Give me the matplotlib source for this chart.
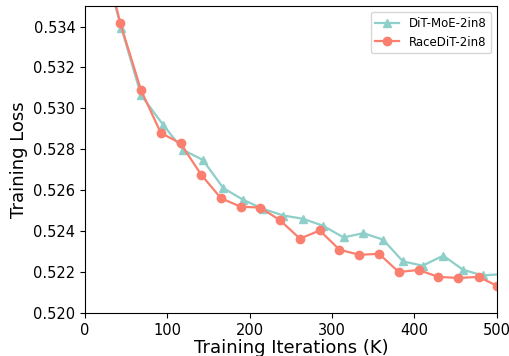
import matplotlib
matplotlib.use("Agg")
import matplotlib.pyplot as plt

# iterations (K) and training loss
moe_iters = [20, 44, 68, 95, 119, 143, 168, 192, 216, 241, 265, 289, 314, 338, 362, 386, 410, 435, 459, 483, 507]
moe_loss = [0.5375, 0.53395, 0.53065, 0.52919, 0.52797, 0.52748, 0.52610, 0.52553, 0.52509, 0.52476,
            0.52460, 0.52426, 0.52369, 0.52390, 0.52358, 0.52252, 0.52231, 0.52280, 0.52211, 0.52183, 0.52190]

race_iters = [19, 43, 68, 92, 116, 141, 165, 189, 213, 237, 261, 285, 309, 333, 357, 381, 405, 429, 453, 478, 500]
race_loss = [0.5380, 0.53415, 0.53089, 0.52880, 0.52829, 0.52676, 0.52561, 0.52519, 0.52515, 0.52452,
             0.52363, 0.52403, 0.52309, 0.52284, 0.52289, 0.52200, 0.52210, 0.52176, 0.52171, 0.52176, 0.52133]

fig, ax = plt.subplots(figsize=(5.09, 3.56), dpi=100)
fig.subplots_adjust(left=0.167, right=0.976, top=0.983, bottom=0.121)

ax.plot(moe_iters, moe_loss, color="#8ECFC9", marker="^", markersize=6, linewidth=1.6, label="DiT-MoE-2in8")
ax.plot(race_iters, race_loss, color="#FA7F6F", marker="o", markersize=6, linewidth=1.6, label="RaceDiT-2in8")

ax.set_xlim(0, 500)
ax.set_ylim(0.520, 0.535)
ax.set_yticks([0.520, 0.522, 0.524, 0.526, 0.528, 0.530, 0.532, 0.534])
ax.set_xticks([0, 100, 200, 300, 400, 500])
ax.tick_params(labelsize=10.5)
ax.set_xlabel("Training Iterations (K)", fontsize=13, labelpad=1)
ax.set_ylabel("Training Loss", fontsize=13)
ax.legend(loc="upper right", fontsize=8.5)

fig.savefig("out.png", dpi=100)
